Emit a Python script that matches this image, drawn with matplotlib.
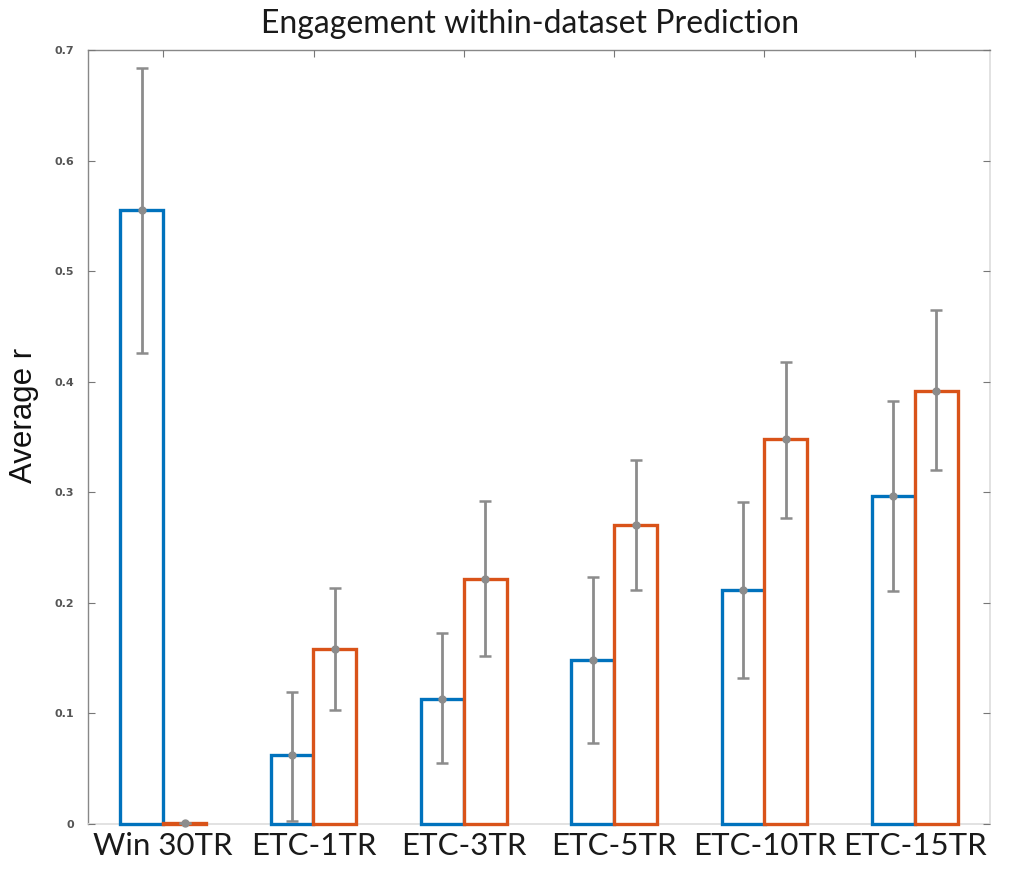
import matplotlib.pyplot as plt
import numpy as np

categories = ["Win 30TR", "ETC-1TR", "ETC-3TR", "ETC-5TR", "ETC-10TR", "ETC-15TR"]

# series 1 (blue) and series 2 (orange), with error bar ends
blue_mean = [0.555, 0.062, 0.113, 0.148, 0.212, 0.297]
blue_low = [0.426, 0.003, 0.055, 0.073, 0.132, 0.211]
blue_high = [0.684, 0.119, 0.173, 0.223, 0.291, 0.383]

orange_mean = [0.001, 0.158, 0.222, 0.270, 0.348, 0.392]
orange_low = [0.001, 0.103, 0.152, 0.212, 0.277, 0.320]
orange_high = [0.001, 0.213, 0.292, 0.329, 0.418, 0.465]

yticks = [0, 0.1, 0.2, 0.3, 0.4, 0.5, 0.6, 0.7]
ytick_labels = ["0", "0.1", "0.2", "0.3", "0.4", "0.5", "0.6", "0.7"]

BLUE = "#0072BD"
ORANGE = "#D95319"
GRAY = "#8c8c8c"

fig = plt.figure(figsize=(10.15, 8.71), dpi=100)
ax = fig.add_axes([88 / 1015, 1 - 824 / 871, 902 / 1015, 774 / 871])

x = np.arange(1, len(categories) + 1)
w = 0.286
off = 0.143

# Outlined bars, white fill
ax.bar(x - off, blue_mean, width=w, facecolor="white", edgecolor=BLUE, linewidth=2.4, zorder=3, clip_on=False)
ax.bar(x + off, orange_mean, width=w, facecolor="white", edgecolor=ORANGE, linewidth=2.4, zorder=3, clip_on=False)

# Error bars
for xs, m, lo, hi in [(x - off, blue_mean, blue_low, blue_high),
                      (x + off, orange_mean, orange_low, orange_high)]:
    m = np.array(m)
    yerr = [m - np.array(lo), np.array(hi) - m]
    ax.errorbar(xs, m, yerr=yerr, fmt="o", color=GRAY, ecolor=GRAY,
                markersize=5, elinewidth=2, capsize=4, capthick=1.8, zorder=4, clip_on=False)

ax.set_xlim(0.5, 6.5)
ax.set_ylim(0, 0.7)

ax.set_xticks(x)
ax.set_xticklabels(categories, fontsize=22.5, family="Lato", color="#1a1a1a")
ax.set_yticks(yticks)
ax.set_yticklabels(ytick_labels, fontsize=8, color="#555555", fontweight="bold")

ax.tick_params(axis="both", direction="in", top=True, right=True, length=5, width=0.8, color="#777777")
ax.tick_params(axis="x", pad=6)
ax.tick_params(axis="y", pad=10)

for side in ["left", "top"]:
    ax.spines[side].set_color("#888888")
    ax.spines[side].set_linewidth(1.0)
for side in ["right", "bottom"]:
    ax.spines[side].set_color("#dddddd")
    ax.spines[side].set_linewidth(1.2)
for side in ax.spines:
    ax.spines[side].set_zorder(1)

ax.set_ylabel("Average r", fontsize=22.5, family="Liberation Sans", color="#111111")
ax.yaxis.set_label_coords(-0.054, 0.528)
ax.set_title("Engagement within-dataset Prediction", fontsize=23, family="Lato", pad=12,
             color="#1a1a1a", x=0.49)

plt.savefig("out.png", dpi=100)
plt.close(fig)
